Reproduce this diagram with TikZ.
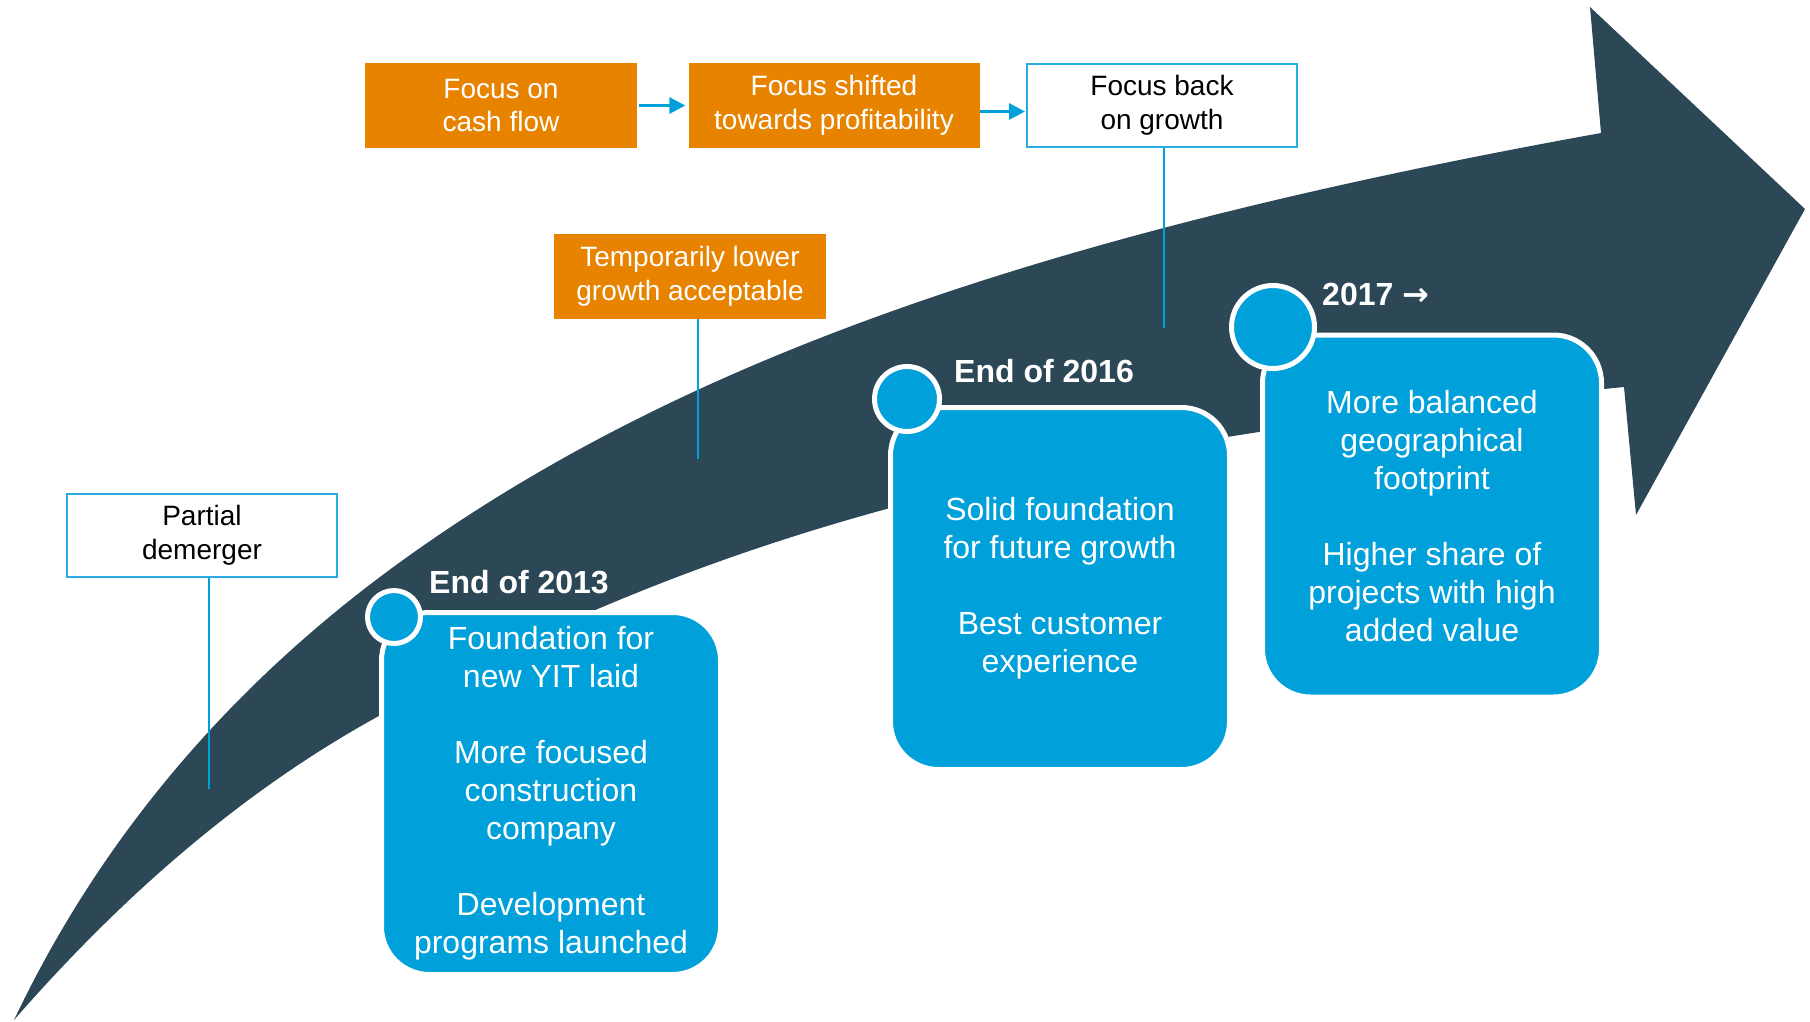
\documentclass[tikz,border=0pt]{standalone}
\usepackage{fontspec}
\setmainfont{Liberation Sans}
\newfontfamily\arrowfont{DejaVu Sans}
\usetikzlibrary{arrows.meta}

\definecolor{slate}{RGB}{44,71,86}
\definecolor{yitblue}{RGB}{0,160,218}
\definecolor{yitorange}{RGB}{232,131,0}
\definecolor{lineblue}{RGB}{40,172,226}

\begin{document}
\begin{tikzpicture}[x=1pt,y=-1pt,node distance=333pt]

% Define block styles
\tikzstyle{orangebox} = [rectangle, minimum width=272pt, minimum height=85pt, text centered, align=center, fill=yitorange, text=white, font=\fontsize{28}{33.5}\selectfont]
\tikzstyle{whitebox} = [rectangle, minimum width=270pt, minimum height=83pt, text centered, align=center, draw=lineblue, line width=2pt, fill=white, font=\fontsize{28}{33.5}\selectfont]
\tikzstyle{bluebox} = [rectangle, rounded corners=48pt, minimum width=339pt, minimum height=362pt, align=center, draw=white, line width=5pt, fill=yitblue, text=white, font=\fontsize{32}{38}\selectfont]
\tikzstyle{dot} = [circle, inner sep=0pt, draw=white, line width=5pt, fill=yitblue]
\tikzstyle{year} = [anchor=west, inner sep=0pt, text=white, font=\bfseries\fontsize{32}{38}\selectfont]
\tikzstyle{arrow} = [line width=3pt, draw=yitblue, -{Triangle[length=16pt,width=16pt]}]
\tikzstyle{stem} = [line width=2pt, draw=yitblue]

\useasboundingbox (0,0) rectangle (1810,1021);

% Big arrow
\fill [slate] (14,1020) .. controls (101,837) and (231,684) .. (403,560)
  .. controls (677,363) and (1036,235) .. (1601,133)
  -- (1590,7) -- (1805,209) -- (1636,515) -- (1624,387)
  .. controls (1031,446) and (719,529) .. (377,717)
  .. controls (250,787) and (129,888) .. (14,1020) -- cycle;

% Define nodes
\node (cash) [orangebox] at (501,105.5) {Focus on\\cash flow};
\node (shifted) [right of = cash, orangebox, minimum width=291pt] {Focus shifted\\towards profitability};
\node (back) [right of = shifted, xshift=-5pt, whitebox] {Focus back\\on growth};
\node (lower) [orangebox] at (690,276.5) {Temporarily lower\\growth acceptable};
\node (demerger) [whitebox] at (202,535.5) {Partial\\demerger};

\coordinate (demergerend) at (209,789);
\coordinate (lowerend) at (698,459);
\coordinate (backend) at (1164,328);

% Draw arrows
\draw [arrow] ([xshift=2pt]cash.east) -- ([xshift=-3pt]shifted.west);
\draw [arrow] ([yshift=-6pt]shifted.east) -- ([yshift=-6pt,xshift=-1pt]back.west);
\draw [stem] (demerger.south -| demergerend) -- (demergerend);
\draw [stem] (lower.south -| lowerend) -- (lowerend);
\draw [stem] (back.south -| backend) -- (backend);

% Milestones
\node (m2013) [bluebox] at (551,793.5) {Foundation for\\new YIT laid\\[38pt]More focused\\construction\\company\\[38pt]Development\\programs launched};
\node (m2016) [bluebox] at (1060,588.5) {Solid foundation\\for future growth\\[38pt]Best customer\\experience};
\node (m2017) [bluebox] at (1432,516) {More balanced\\geographical\\footprint\\[38pt]Higher share of\\projects with high\\added value};

\node (d2013) [dot, minimum size=53pt] at (394,617) {};
\node (d2016) [dot, minimum size=65pt] at (907,399) {};
\node (d2017) [dot, minimum size=83pt] at (1273,327) {};

\node (y2013) [year] at (429,582) {End of 2013};
\node (y2016) [year] at (954,371) {End of 2016};
\node (y2017) [year] at (1322,294.5) {2017 {\arrowfont\bfseries →}};

\end{tikzpicture}
\end{document}
